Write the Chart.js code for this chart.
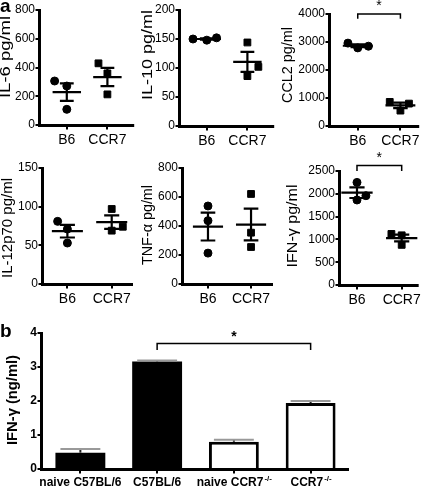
<!DOCTYPE html>
<html>
<head>
<meta charset="utf-8">
<script src="https://cdn.jsdelivr.net/npm/chart.js@4.4.1/dist/chart.umd.min.js"></script>
<style>
  body { margin: 0; background: #fff; }
  #wrap { position: relative; width: 425px; height: 490px; overflow: hidden; font-family: "Liberation Sans", Arial, sans-serif; }
  #wrap canvas { position: absolute; }
  .panel { position: absolute; font-weight: bold; font-size: 19px; line-height: 22px; }
</style>
</head>
<body>
<div id="wrap">
  <canvas id="il6" width="140" height="150" style="left:0;top:0"></canvas>
  <canvas id="il10" width="140" height="150" style="left:140px;top:0"></canvas>
  <canvas id="ccl2" width="145" height="150" style="left:280px;top:0"></canvas>
  <canvas id="il12" width="140" height="160" style="left:0;top:150px"></canvas>
  <canvas id="tnf" width="140" height="160" style="left:140px;top:150px"></canvas>
  <canvas id="ifn" width="145" height="160" style="left:280px;top:150px"></canvas>
  <canvas id="bars" width="360" height="170" style="left:0;top:320px"></canvas>
  <div class="panel" style="left:0;top:-5px">a</div>
  <div class="panel" style="left:0;top:320px">b</div>
</div>
<script>
// panel a: three mice per group
const groups = ['B6', 'CCR7'];

const il6B6 = [306, 271, 109];
const il6Ccr7 = [429, 359, 213];
const il10B6 = [150, 148, 152];
const il10Ccr7 = [144, 102, 86];
const ccl2B6 = [2960, 2790, 2850];
const ccl2Ccr7 = [860, 800, 550];
const il12B6 = [81, 71, 53];
const il12Ccr7 = [97, 69, 74];
const tnfB6 = [538, 437, 213];
const tnfCcr7 = [621, 354, 255];
const ifnB6 = [2250, 1864, 1958];
const ifnCcr7 = [1120, 1090, 880];

const il6Ticks = [0, 200, 400, 600, 800];
const il10Ticks = [0, 50, 100, 150, 200];
const ccl2Ticks = [0, 1000, 2000, 3000, 4000];
const il12Ticks = [0, 50, 100, 150];
const tnfTicks = [0, 200, 400, 600, 800];
const ifnTicks = [0, 500, 1000, 1500, 2000, 2500];

// panel b
const bCategories = ['naive C57BL/6', 'C57BL/6', 'naive CCR7-/-', 'CCR7-/-'];
const bMeans = [0.48, 3.16, 0.8, 1.94];
const bSem = [0.11, 0.03, 0.06, 0.06];
const bTicks = [0, 1, 2, 3, 4];

const family = '"Liberation Sans", Arial, sans-serif';
Chart.defaults.color = '#000';

// y axis title, stretched along its length like the original figure
const yTitle = {
  id: 'yTitle',
  afterDraw(chart, args, o) {
    const ctx = chart.ctx;
    ctx.save();
    ctx.font = o.font;
    ctx.fillStyle = '#000';
    const w = ctx.measureText(o.text).width;
    ctx.translate(o.x, o.y);
    ctx.rotate(-Math.PI / 2);
    ctx.scale(o.length / w, 1);
    ctx.textAlign = 'center';
    ctx.textBaseline = 'middle';
    ctx.fillText(o.text, 0, 0);
    ctx.restore();
  }
};

// solid black axis lines and tick marks, placed from the scales' ticks
const axes = {
  id: 'axes',
  afterDraw(chart, args, o) {
    const ctx = chart.ctx, a = chart.chartArea, xs = chart.scales.x, ys = chart.scales.y;
    const left = Math.round(a.left) - 0.5, bottom = Math.round(a.bottom) + 0.5;
    ctx.save();
    ctx.strokeStyle = '#000';
    ctx.lineWidth = 3;
    ctx.beginPath();
    ctx.moveTo(left, a.top - 1);
    ctx.lineTo(left, bottom);
    ctx.moveTo(left - 1.5, bottom);
    ctx.lineTo(a.right, bottom);
    ctx.stroke();
    ctx.lineWidth = 2;
    ctx.beginPath();
    ys.ticks.forEach((t, i) => {
      const p = Math.round(ys.getPixelForTick(i));
      ctx.moveTo(left - o.tick, p);
      ctx.lineTo(left, p);
    });
    xs.ticks.forEach((t, i) => {
      const p = Math.round(xs.getPixelForTick(i));
      ctx.moveTo(p, bottom);
      ctx.lineTo(p, bottom + o.tick);
    });
    ctx.stroke();
    ctx.restore();
  }
};

// mean +/- SEM computed from the points
const meanSem = {
  id: 'meanSem',
  afterDatasetsDraw(chart, args, o) {
    const ctx = chart.ctx, xs = chart.scales.x, ys = chart.scales.y;
    const px = v => xs.getPixelForValue(v), py = v => ys.getPixelForValue(v);
    ctx.save();
    ctx.strokeStyle = '#000';
    ctx.lineWidth = 2.2;
    chart.data.datasets.forEach((ds, i) => {
      const v = ds.data.map(p => p.y);
      const m = v.reduce((a, b) => a + b, 0) / v.length;
      const sd = Math.sqrt(v.reduce((a, b) => a + (b - m) ** 2, 0) / (v.length - 1));
      const se = sd / Math.sqrt(v.length);
      const c = i + 1;
      ctx.beginPath();
      ctx.moveTo(px(c - o.mean), py(m)); ctx.lineTo(px(c + o.mean), py(m));
      ctx.moveTo(px(c), py(m - se)); ctx.lineTo(px(c), py(m + se));
      ctx.moveTo(px(c - o.cap), py(m - se)); ctx.lineTo(px(c + o.cap), py(m - se));
      ctx.moveTo(px(c - o.cap), py(m + se)); ctx.lineTo(px(c + o.cap), py(m + se));
      ctx.stroke();
    });
    ctx.restore();
  }
};

const bracket = {
  id: 'bracket',
  afterDraw(chart, args, o) {
    if (!o.show) return;
    const ctx = chart.ctx, xs = chart.scales.x, ys = chart.scales.y;
    const x1 = xs.getPixelForValue(o.from), x2 = xs.getPixelForValue(o.to);
    const y = ys.getPixelForValue(o.y), yl = ys.getPixelForValue(o.leg);
    ctx.save();
    ctx.strokeStyle = '#000';
    ctx.lineWidth = o.width;
    ctx.beginPath();
    ctx.moveTo(x1, yl); ctx.lineTo(x1, y); ctx.lineTo(x2, y); ctx.lineTo(x2, yl);
    ctx.stroke();
    ctx.font = o.font;
    ctx.fillStyle = '#000';
    ctx.textAlign = 'center';
    ctx.textBaseline = 'alphabetic';
    ctx.fillText('*', (x1 + x2) / 2, y - o.gap);
    ctx.restore();
  }
};

// chart.js draws nothing of its own axes, it only keeps room for the tick marks
function axisStyle(tickLength) {
  return {
    grid: { drawOnChartArea: false, drawTicks: true, tickLength: tickLength, color: 'rgba(0,0,0,0)' },
    border: { display: false }
  };
}

function scatterChart(id, opt) {
  return new Chart(document.getElementById(id), {
    type: 'scatter',
    data: {
      datasets: [
        {
          data: opt.b6.map((y, k) => ({ x: 1 + opt.jitter[0][k], y: y })),
          pointStyle: 'circle', pointRadius: 4, backgroundColor: '#000', borderColor: '#000'
        },
        {
          data: opt.ccr7.map((y, k) => ({ x: 2 + opt.jitter[1][k], y: y })),
          pointStyle: 'rect', pointRadius: 4.8, backgroundColor: '#000', borderColor: '#000'
        }
      ]
    },
    options: {
      responsive: false,
      animation: false,
      layout: { padding: { top: opt.top, right: opt.right, left: 0, bottom: 0 } },
      plugins: {
        legend: { display: false },
        tooltip: { enabled: false },
        yTitle: { text: opt.title, font: '14px ' + family, x: opt.tx, y: opt.ty, length: opt.tlen },
        axes: { tick: 4 },
        meanSem: { mean: 0.35, cap: 0.17 },
        bracket: opt.bracket || { show: false }
      },
      scales: {
        x: Object.assign({
          type: 'linear', min: opt.xMin, max: opt.xMax,
          afterBuildTicks: s => { s.ticks = groups.map((g, i) => ({ value: i + 1 })); },
          afterFit: s => { s.height = opt.xh; },
          ticks: { callback: v => groups[v - 1], color: '#000', font: { family: family, size: 14 }, padding: 3, maxRotation: 0 }
        }, axisStyle(4)),
        y: Object.assign({
          min: 0, max: opt.ticks[opt.ticks.length - 1],
          afterBuildTicks: s => { s.ticks = opt.ticks.map(v => ({ value: v })); },
          afterFit: s => { s.width = opt.yw; },
          ticks: { callback: v => String(v), color: '#000', font: { family: family, size: 12 }, padding: 1 }
        }, axisStyle(4))
      }
    },
    plugins: [yTitle, axes, meanSem, bracket]
  });
}

scatterChart('il6', {
  b6: il6B6, ccr7: il6Ccr7, jitter: [[-0.3, 0, 0], [-0.22, 0, 0]], ticks: il6Ticks,
  title: 'IL-6 pg/ml', tx: 6, ty: 57, tlen: 82,
  xMin: 0.34, xMax: 2.66, top: 10, right: 5, yw: 40, xh: 25
});
scatterChart('il10', {
  b6: il10B6, ccr7: il10Ccr7, jitter: [[-0.34, 0, 0.24], [0, 0.27, 0]], ticks: il10Ticks,
  title: 'IL-10 pg/ml', tx: 8, ty: 55, tlen: 90,
  xMin: 0.34, xMax: 2.66, top: 10, right: 5, yw: 40, xh: 24
});
scatterChart('ccl2', {
  b6: ccl2B6, ccr7: ccl2Ccr7, jitter: [[-0.23, 0, 0.25], [-0.25, 0.2, 0]], ticks: ccl2Ticks,
  title: 'CCL2 pg/ml', tx: 8, ty: 65, tlen: 76,
  xMin: 0.35, xMax: 2.44, top: 14, right: 5, yw: 50, xh: 24,
  bracket: { show: true, from: 1, to: 2, y: 4000, leg: 3830, width: 1.5, gap: 4, font: '14px ' + family }
});
scatterChart('il12', {
  b6: il12B6, ccr7: il12Ccr7, jitter: [[-0.22, 0, 0], [0, 0, 0.25]], ticks: il12Ticks,
  title: 'IL-12p70 pg/ml', tx: 8, ty: 78, tlen: 100,
  xMin: 0.45, xMax: 2.48, top: 18, right: 7, yw: 43, xh: 26
});
scatterChart('tnf', {
  b6: tnfB6, ccr7: tnfCcr7, jitter: [[0, 0, 0], [0, 0, 0]], ticks: tnfTicks,
  title: 'TNF-α pg/ml', tx: 8, ty: 75, tlen: 80,
  xMin: 0.42, xMax: 2.51, top: 18, right: 7, yw: 43, xh: 26
});
scatterChart('ifn', {
  b6: ifnB6, ccr7: ifnCcr7, jitter: [[0, 0, 0.2], [-0.23, 0, 0]], ticks: ifnTicks,
  title: 'IFN-γ pg/ml', tx: 13, ty: 76, tlen: 83,
  xMin: 0.62, xMax: 2.38, top: 21, right: 2, yw: 60, xh: 25,
  bracket: { show: true, from: 1, to: 2, y: 2620, leg: 2500, width: 1.5, gap: 4, font: '14px ' + family }
});

// panel b helpers
const errorBars = {
  id: 'errorBars',
  afterDatasetsDraw(chart) {
    const ctx = chart.ctx, ys = chart.scales.y;
    const meta = chart.getDatasetMeta(0);
    ctx.save();
    ctx.lineWidth = 2;
    meta.data.forEach((bar, i) => {
      const top = ys.getPixelForValue(bMeans[i]);
      const hi = ys.getPixelForValue(bMeans[i] + bSem[i]);
      const half = bar.width * 0.4;
      ctx.strokeStyle = '#222';
      ctx.beginPath();
      ctx.moveTo(bar.x, top); ctx.lineTo(bar.x, hi);
      ctx.stroke();
      ctx.strokeStyle = '#999';
      ctx.beginPath();
      ctx.moveTo(bar.x - half, hi); ctx.lineTo(bar.x + half, hi);
      ctx.stroke();
    });
    ctx.restore();
  }
};

// category labels with the -/- part set as superscript
const supLabels = {
  id: 'supLabels',
  afterDraw(chart, args, o) {
    const ctx = chart.ctx, xs = chart.scales.x;
    const y = chart.chartArea.bottom + o.offset;
    ctx.save();
    ctx.fillStyle = '#000';
    ctx.textBaseline = 'alphabetic';
    ctx.textAlign = 'left';
    chart.data.labels.forEach((lab, i) => {
      const m = lab.match(/^(.*?)(-\/-)?$/);
      const main = m[1], sup = m[2] || '';
      ctx.font = 'bold 12px ' + family;
      const w1 = ctx.measureText(main).width;
      ctx.font = 'bold 8px ' + family;
      const w2 = ctx.measureText(sup).width;
      const x0 = xs.getPixelForValue(i) - (w1 + w2) / 2;
      ctx.font = 'bold 12px ' + family;
      ctx.fillText(main, x0, y);
      ctx.font = 'bold 8px ' + family;
      ctx.fillText(sup, x0 + w1 + 1, y - 5);
    });
    ctx.restore();
  }
};

const barFill = ['#000', '#000', '#fff', '#fff'];
const barBorder = [0, 0, 3, 3];

new Chart(document.getElementById('bars'), {
  type: 'bar',
  data: {
    labels: bCategories,
    datasets: [{
      data: bMeans,
      backgroundColor: barFill,
      borderColor: '#000',
      borderWidth: barBorder,
      barPercentage: 0.65,
      categoryPercentage: 1
    }]
  },
  options: {
    responsive: false,
    animation: false,
    layout: { padding: { top: 13, right: 11, left: 0, bottom: 0 } },
    plugins: {
      legend: { display: false },
      tooltip: { enabled: false },
      yTitle: { text: 'IFN-γ (ng/ml)', font: 'bold 14px ' + family, x: 13, y: 80, length: 90 },
      axes: { tick: 4 },
      bracket: { show: true, from: 1, to: 3, y: 3.69, leg: 3.5, width: 1.5, gap: 3, font: 'bold 14px ' + family },
      supLabels: { offset: 17 }
    },
    scales: {
      x: Object.assign({
        afterFit: s => { s.height = 21; },
        ticks: { callback: () => '', font: { size: 12 } }
      }, axisStyle(4)),
      y: Object.assign({
        min: 0, max: bTicks[bTicks.length - 1],
        afterBuildTicks: s => { s.ticks = bTicks.map(v => ({ value: v })); },
        afterFit: s => { s.width = 42; },
        ticks: { callback: v => String(v), color: '#000', font: { family: family, size: 12, weight: 'bold' }, padding: 1 }
      }, axisStyle(4))
    }
  },
  plugins: [yTitle, axes, errorBars, bracket, supLabels]
});
</script>
</body>
</html>
